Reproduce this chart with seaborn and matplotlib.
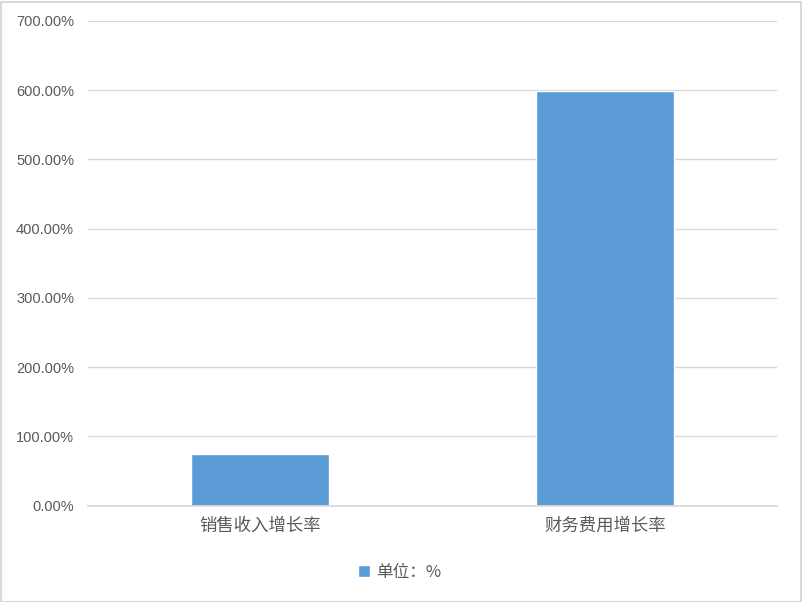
import matplotlib
matplotlib.use("Agg")
import matplotlib.pyplot as plt
import seaborn as sns
import pandas as pd
from matplotlib.patches import Rectangle

categories = ["销售收入增长率", "财务费用增长率"]
values = [74.0, 598.5]
series_name = "单位：%"
yticks = [0, 100, 200, 300, 400, 500, 600, 700]

sns.set_theme(style="white")
plt.rcParams['font.family'] = ['Noto Sans CJK SC', 'DejaVu Sans']

df = pd.DataFrame({"cat": categories, "val": values, "s": series_name})

fig = plt.figure(figsize=(8.02, 6.02), dpi=100)
ax = fig.add_axes([88/802, 96.5/602, 689/802, 484.5/602])
sns.barplot(data=df, x="cat", y="val", hue="s", palette=["#5b9bd5"],
            width=0.4, ax=ax, saturation=1, legend=True)

ax.set_ylim(0, 700)
ax.set_xlim(-0.5, 1.5)
ax.set_yticks(yticks)
ax.set_yticklabels([f"{v:.2f}%" for v in yticks], fontsize=10.5, color="#595959",
                   family=['Liberation Sans', 'DejaVu Sans'])
ax.tick_params(axis='x', labelsize=12.5, colors="#595959", length=0, pad=8)
ax.tick_params(axis='y', length=0, pad=10)
ax.yaxis.grid(True, color="#d9d9d9", linewidth=1)
ax.set_axisbelow(True)
for s in ["top", "right", "left"]:
    ax.spines[s].set_visible(False)
ax.spines["bottom"].set_color("#d9d9d9")
ax.set_xlabel("")
ax.set_ylabel("")

ax.legend(loc="center", bbox_to_anchor=(400/802, 30/602),
          bbox_transform=fig.transFigure, frameon=False, fontsize=12,
          labelcolor="#595959", handlelength=0.7, handleheight=0.7,
          handletextpad=0.4)

fig.patches.append(Rectangle((0.5/802, 0.5/602), 800/802, 600/602,
                             transform=fig.transFigure, fill=False,
                             edgecolor="#d9d9d9", linewidth=1.5))

fig.savefig("out.png", dpi=100)
